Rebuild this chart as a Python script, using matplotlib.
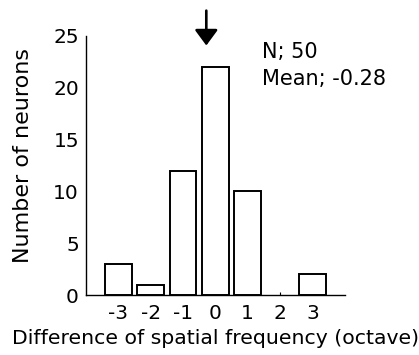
import matplotlib
matplotlib.use("Agg")
import matplotlib.pyplot as plt

plt.rcParams['font.family'] = ['DejaVu Sans']

octaves = [-3, -2, -1, 0, 1, 2, 3]
counts = [3, 1, 12, 22, 10, 0, 2]
yticks = [0, 5, 10, 15, 20, 25]
mean_val = -0.28
n_val = 50

fig = plt.figure(figsize=(4.19, 3.55), dpi=100)
ax = fig.add_axes([0.205, 0.169, 0.618, 0.730])

edge_w = [1.4 if c > 0 else 0 for c in counts]
ax.bar(octaves, counts, width=0.82, facecolor='white', edgecolor='black', linewidth=edge_w, zorder=3)

ax.set_xlim(-4, 4)
ax.set_ylim(0, 25)
ax.set_xticks(octaves)
ax.set_xticklabels([str(o) for o in octaves])
ax.set_yticks(yticks)
ax.tick_params(axis='x', direction='in', length=2, width=0.8, labelsize=14.5, pad=6.5)
ax.tick_params(axis='y', length=0, labelsize=14.5, pad=5)
for s in ['top', 'right']:
    ax.spines[s].set_visible(False)
for s in ['left', 'bottom']:
    ax.spines[s].set_linewidth(1.0)

ax.set_xlabel('Difference of spatial frequency (octave)', fontsize=14.7, labelpad=4)
ax.set_ylabel('Number of neurons', fontsize=16)
ax.yaxis.set_label_coords(-0.205, 0.537)

ax.annotate('', xy=(mean_val, 23.8), xytext=(mean_val, 27.7),
            arrowprops=dict(arrowstyle='-|>,head_length=0.38,head_width=0.28',
                            color='black', lw=1.9, mutation_scale=25),
            annotation_clip=False)

ax.text(1.45, 23.4, f'N; {n_val}', fontsize=15, ha='left', va='center')
ax.text(1.45, 20.8, f'Mean; {mean_val}', fontsize=15, ha='left', va='center')

fig.savefig('out.png', dpi=100)
